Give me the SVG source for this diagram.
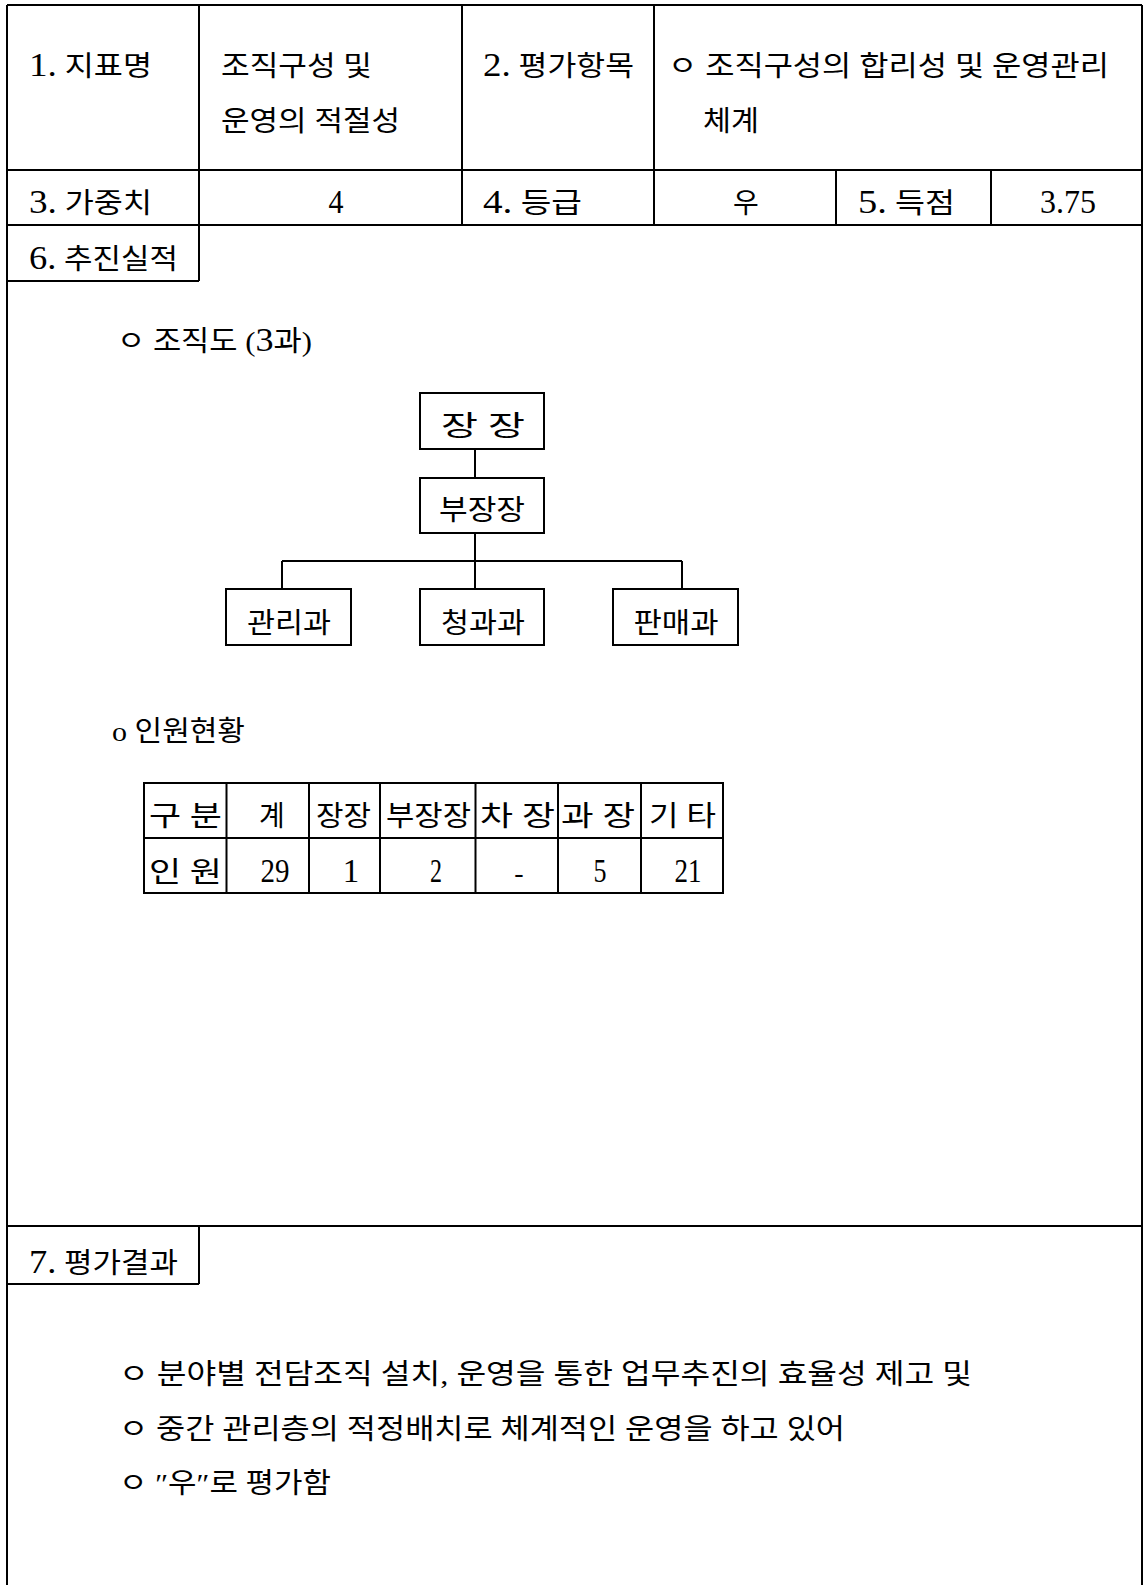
<svg xmlns="http://www.w3.org/2000/svg" width="1144" height="1585" viewBox="0 0 1144 1585">
<style>
text{font-family:"Liberation Serif","Noto Sans CJK KR",serif;font-size:28px;fill:#000}
.m{text-anchor:middle}
.d{font-size:33px}
.ln{stroke:#000;stroke-width:2;fill:none}
.box{stroke:#000;stroke-width:2;fill:#fff}
</style>
<rect width="1144" height="1585" fill="#fff"/>
<g id="frame" class="ln">
<path d="M7 5H1142M7 5V1585M1142 5V1585M7 170H1142M7 225H1142M199 5V225M462 5V225M654 5V225M836 170V225M991 170V225"/>
<path d="M199 225V281M7 281H199"/>
<path d="M7 1226H1142M199 1226V1284M7 1284H199"/>
</g>
<g id="header">
<text x="29" y="76" textLength="123" lengthAdjust="spacingAndGlyphs"><tspan class="d">1.</tspan> 지표명</text>
<text x="221" y="76" textLength="151" lengthAdjust="spacingAndGlyphs">조직구성 및</text>
<text x="221" y="131" textLength="179" lengthAdjust="spacingAndGlyphs">운영의 적절성</text>
<text x="483" y="76" textLength="151" lengthAdjust="spacingAndGlyphs"><tspan class="d">2.</tspan> 평가항목</text>
<text x="668" y="76" textLength="441" lengthAdjust="spacingAndGlyphs">ㅇ 조직구성의 합리성 및 운영관리</text>
<text x="703" y="131" textLength="56" lengthAdjust="spacingAndGlyphs">체계</text>
<text x="29" y="213" textLength="123" lengthAdjust="spacingAndGlyphs"><tspan class="d">3.</tspan> 가중치</text>
<text x="336" y="213" class="m d" textLength="15" lengthAdjust="spacingAndGlyphs">4</text>
<text x="483" y="213" textLength="99" lengthAdjust="spacingAndGlyphs"><tspan class="d">4.</tspan> 등급</text>
<text x="746" y="213" class="m">우</text>
<text x="858" y="213" textLength="97" lengthAdjust="spacingAndGlyphs"><tspan class="d">5.</tspan> 득점</text>
<text x="1040" y="213" class="d" textLength="56" lengthAdjust="spacingAndGlyphs">3.75</text>
<text x="29" y="269" textLength="149" lengthAdjust="spacingAndGlyphs"><tspan class="d">6.</tspan> 추진실적</text>
</g>
<text x="117" y="351" textLength="195" lengthAdjust="spacingAndGlyphs">ㅇ 조직도 (<tspan class="d">3</tspan>과)</text>
<g id="connectors" class="ln">
<path d="M475 449V478M475 533V589M282 561H682M282 561V589M682 561V589"/>
</g>
<g id="node-jangjang"><rect class="box" x="420" y="393" width="124" height="56"/><text x="483" y="436" class="m" textLength="84" lengthAdjust="spacingAndGlyphs">장 장</text></g>
<g id="node-bujangjang"><rect class="box" x="420" y="478" width="124" height="55"/><text x="482" y="520" class="m" textLength="86" lengthAdjust="spacingAndGlyphs">부장장</text></g>
<g id="node-gwanri"><rect class="box" x="226" y="589" width="125" height="56"/><text x="289" y="633" class="m" textLength="84" lengthAdjust="spacingAndGlyphs">관리과</text></g>
<g id="node-cheong"><rect class="box" x="420" y="589" width="124" height="56"/><text x="483" y="633" class="m" textLength="84" lengthAdjust="spacingAndGlyphs">청과과</text></g>
<g id="node-panmae"><rect class="box" x="613" y="589" width="125" height="56"/><text x="676" y="633" class="m" textLength="85" lengthAdjust="spacingAndGlyphs">판매과</text></g>
<text x="112" y="741" textLength="133" lengthAdjust="spacingAndGlyphs">o 인원현황</text>
<g id="staff-table">
<rect class="ln" x="144" y="783" width="579" height="110"/>
<path class="ln" d="M144 838H723M226.5 783V893M309 783V893M380 783V893M475.5 783V893M558 783V893M641 783V893"/>
<text x="149" y="826" textLength="73" lengthAdjust="spacingAndGlyphs">구 분</text>
<text x="272" y="826" class="m">계</text>
<text x="316" y="826" textLength="55" lengthAdjust="spacingAndGlyphs">장장</text>
<text x="386" y="826" textLength="85" lengthAdjust="spacingAndGlyphs">부장장</text>
<text x="480" y="826" textLength="75" lengthAdjust="spacingAndGlyphs">차 장</text>
<text x="561" y="826" textLength="74" lengthAdjust="spacingAndGlyphs">과 장</text>
<text x="649" y="826" textLength="67" lengthAdjust="spacingAndGlyphs">기 타</text>
<text x="149" y="882" textLength="73" lengthAdjust="spacingAndGlyphs">인 원</text>
<text x="275" y="882" class="m d" textLength="29" lengthAdjust="spacingAndGlyphs">29</text>
<text x="351" y="882" class="m d">1</text>
<text x="436" y="882" class="m d" textLength="12" lengthAdjust="spacingAndGlyphs">2</text>
<text x="519" y="882" class="m">-</text>
<text x="600" y="882" class="m d" textLength="13" lengthAdjust="spacingAndGlyphs">5</text>
<text x="688" y="882" class="m d" textLength="27" lengthAdjust="spacingAndGlyphs">21</text>
</g>
<g id="result">
<text x="29" y="1273" textLength="149" lengthAdjust="spacingAndGlyphs"><tspan class="d">7.</tspan> 평가결과</text>
<text x="119" y="1384" textLength="853" lengthAdjust="spacingAndGlyphs">ㅇ 분야별 전담조직 설치, 운영을 통한 업무추진의 효율성 제고 및</text>
<text x="119" y="1439" textLength="726" lengthAdjust="spacingAndGlyphs">ㅇ 중간 관리층의 적정배치로 체계적인 운영을 하고 있어</text>
<text x="119" y="1493" textLength="212" lengthAdjust="spacingAndGlyphs">ㅇ ″우″로 평가함</text>
</g>
</svg>
